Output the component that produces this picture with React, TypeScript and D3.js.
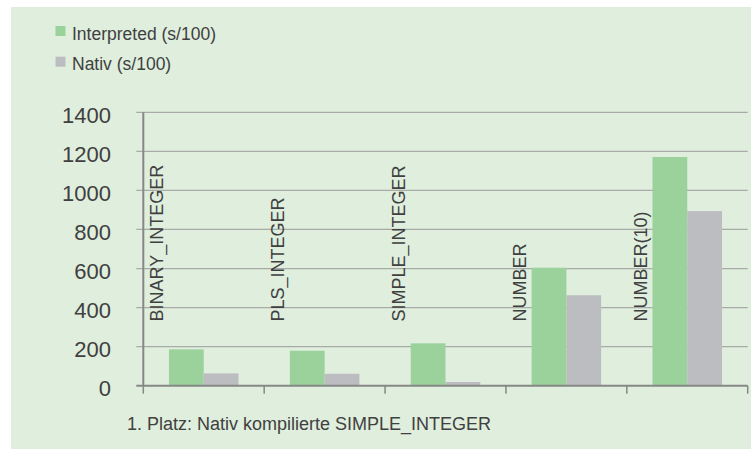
import React from "react";
import * as d3 from "d3";

const categories = ["BINARY_INTEGER", "PLS_INTEGER", "SIMPLE_INTEGER", "NUMBER", "NUMBER(10)"];
const interpreted = [186, 179, 217, 604, 1171];
const nativ = [63, 61, 19, 463, 894];
const yTicks = [0, 200, 400, 600, 800, 1000, 1200, 1400];
const seriesNames = ["Interpreted (s/100)", "Nativ (s/100)"];
const seriesColors = ["#9BD19B", "#BCBDC1"];
const footer = "1. Platz: Nativ kompilierte SIMPLE_INTEGER";

const W = 751;
const H = 449;
const FONT = "'Liberation Sans', Arial, sans-serif";
const TEXT = "#404040";

export default function App() {
  const x0 = 143.3;
  const x1 = 747.7;
  const yBase = 385.7;
  const yTop = 112.3;
  const x = d3.scaleBand<string>().domain(categories).range([x0, x1]).paddingInner(0).paddingOuter(0);
  const bw = x.bandwidth();
  const groupW = bw * 0.575;
  const xs = d3.scaleBand<string>().domain(["i", "n"]).range([0, groupW]);
  const y = d3.scaleLinear().domain([0, 1400]).range([yBase, yTop]);

  const series = [interpreted, nativ];
  const keys = ["i", "n"];

  return (
    <svg width={W} height={H} style={{ position: "absolute", left: 0, top: 0 }} fontFamily={FONT}>
      <rect x={0} y={0} width={W} height={H} fill="#ffffff" />
      <rect x={11} y={7} width={W - 11} height={H - 7} fill="#DFEEDD" />

      {/* legend */}
      {seriesNames.map((s, i) => (
        <g key={s}>
          <rect x={55.5} y={26 + i * 30.7} width={10} height={10} fill={seriesColors[i]} />
          <text x={72} y={40 + i * 29.5} fontSize={17.5} fill={TEXT}>{s}</text>
        </g>
      ))}

      {/* gridlines + y labels */}
      {yTicks.map((t) => (
        <g key={t}>
          {t !== 0 && (
            <line x1={x0 - 7} x2={x1} y1={y(t)} y2={y(t)} stroke="#A9ABA9" strokeWidth={1.2} />
          )}
          <text x={111} y={y(t) + 3} fontSize={22} fill={TEXT} textAnchor="end" dominantBaseline="central">{t}</text>
        </g>
      ))}

      {/* bars */}
      {categories.map((c, ci) => {
        const gx = (x(c) as number) + (bw - groupW) / 2;
        return (
          <g key={c}>
            {series.map((vals, si) => (
              <rect
                key={si}
                x={gx + (xs(keys[si]) as number)}
                y={y(vals[ci])}
                width={xs.bandwidth()}
                height={yBase - y(vals[ci])}
                fill={seriesColors[si]}
              />
            ))}
          </g>
        );
      })}

      {/* axes */}
      <line x1={x0} x2={x0} y1={yTop} y2={yBase} stroke="#868886" strokeWidth={2} />
      <line x1={x0 - 7} x2={x1} y1={yBase} y2={yBase} stroke="#868886" strokeWidth={2} />
      {categories.concat(["end"]).map((c, i) => {
        const xx = i < categories.length ? (x(c) as number) : x1;
        return <line key={i} x1={xx} x2={xx} y1={yBase} y2={yBase + 8} stroke="#868886" strokeWidth={1.5} />;
      })}

      {/* category labels */}
      {categories.map((c) => {
        const lx = (x(c) as number) + 20;
        const ly = 321.5;
        return (
          <text key={c} x={lx} y={ly} transform={`rotate(-90, ${lx}, ${ly})`} fontSize={18} fill={TEXT}>
            {c}
          </text>
        );
      })}

      <text x={127} y={430} fontSize={18} fill={TEXT}>{footer}</text>
    </svg>
  );
}
